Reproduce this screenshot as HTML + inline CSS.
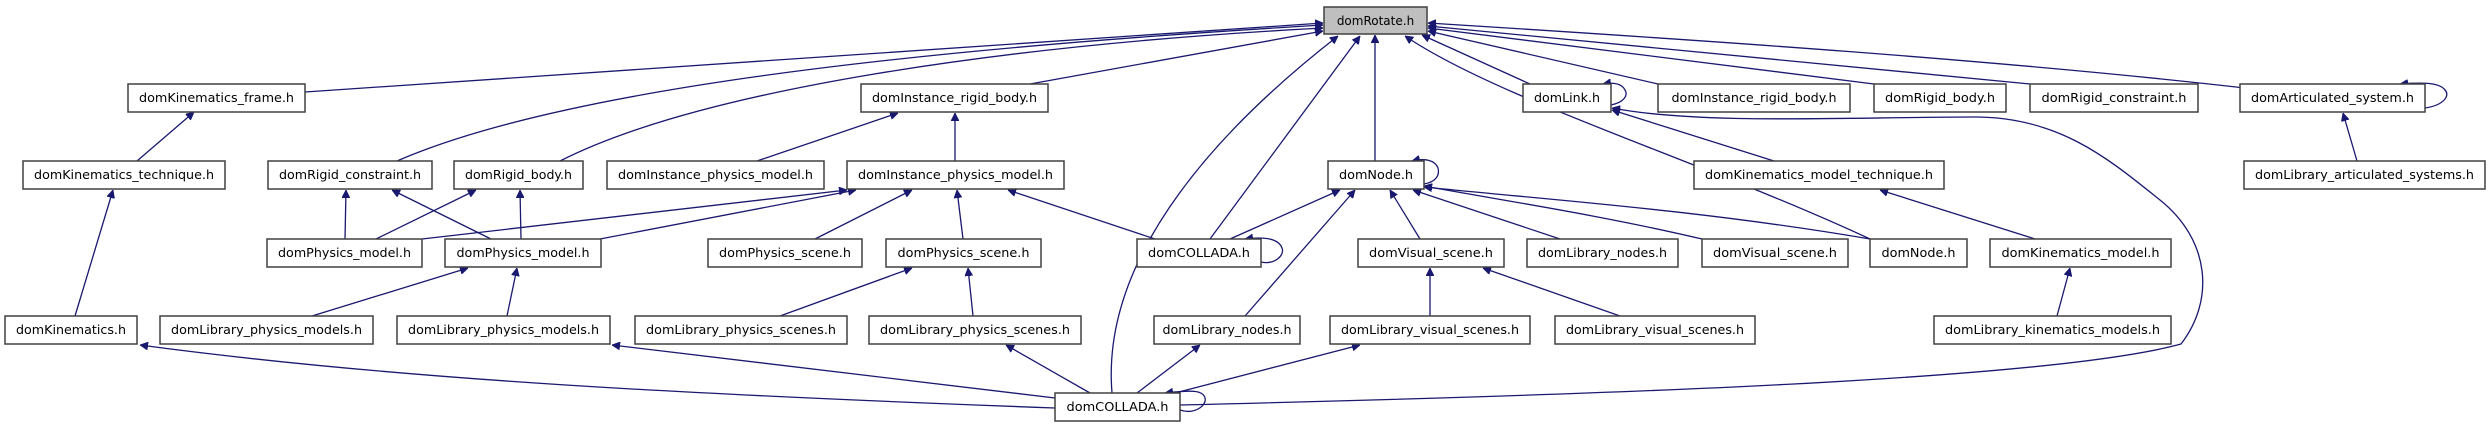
<!DOCTYPE html>
<html><head><meta charset="utf-8"><style>
html,body{margin:0;padding:0;background:#fff;}
svg{display:block;}
text{font-family:"DejaVu Sans","Liberation Sans",sans-serif;font-size:12px;fill:#000;}
.b{fill:#fff;stroke:#404040;stroke-width:1.5;}
.e{fill:none;stroke:#191970;stroke-width:1.3;marker-end:url(#a);}
</style></head><body>
<svg width="2489" height="427" viewBox="0 0 2489 427" xmlns="http://www.w3.org/2000/svg">
<defs><marker id="a" viewBox="0 0 10 10" refX="10" refY="5" markerWidth="8" markerHeight="8" markerUnits="userSpaceOnUse" orient="auto"><path d="M0,0 L10,5 L0,10 z" fill="#191970" stroke="#191970"/></marker></defs>

<path class="e" d="M305,92 L1323,23"/>
<path class="e" d="M397,161 C560,90 900,50 1323,25"/>
<path class="e" d="M560,161 C700,90 1000,45 1323,28"/>
<path class="e" d="M1030,84 L1323,31"/>
<path class="e" d="M1112,393 C1100,250 1230,120 1338,36"/>
<path class="e" d="M1210,239 L1360,36"/>
<path class="e" d="M1375,161 L1375,35"/>
<path class="e" d="M1870,239 C1700,160 1500,100 1405,36"/>
<path class="e" d="M1530,84 L1422,35"/>
<path class="e" d="M1658,84 L1428,31"/>
<path class="e" d="M1874,84 L1428,28"/>
<path class="e" d="M2030,84 L1428,26"/>
<path class="e" d="M2245,88 C2000,60 1700,40 1428,23"/>

<path class="e" d="M137,161 L194,112"/>
<path class="e" d="M75,316 L113,190"/>
<path class="e" d="M345,239 L346,190"/>
<path class="e" d="M376,239 L476,190"/>
<path class="e" d="M422,239 L847,190"/>
<path class="e" d="M491,239 L392,190"/>
<path class="e" d="M521,239 L520,190"/>
<path class="e" d="M600,239 L856,190"/>
<path class="e" d="M757,161 L898,113"/>
<path class="e" d="M955,161 L955,113"/>
<path class="e" d="M815,239 L912,190"/>
<path class="e" d="M963,239 L957,190"/>
<path class="e" d="M1155,239 L1008,190"/>
<path class="e" d="M312,316 L468,268"/>
<path class="e" d="M507,316 L517,268"/>
<path class="e" d="M780,316 L912,268"/>
<path class="e" d="M973,316 L968,268"/>

<path class="e" d="M1055,408 C700,395 400,380 140,345"/>
<path class="e" d="M1055,398 L612,345"/>
<path class="e" d="M1090,393 L1006,345"/>
<path class="e" d="M1137,393 L1200,345"/>
<path class="e" d="M1175,393 L1360,345"/>
<path class="e" d="M1180,405 C1600,395 2050,380 2181,344 C2215,300 2210,240 2160,200 C2110,160 2060,117 1975,117 C1850,117 1700,125 1612,108"/>
<path class="e" d="M1180,410 C1195,415 1207,405 1205,398 C1203,390 1192,390 1165,393"/>

<path class="e" d="M1230,239 L1340,190"/>
<path class="e" d="M1261,262 C1275,265 1285,255 1282,248 C1279,240 1268,236 1245,239"/>

<path class="e" d="M1424,184 C1436,182 1440,175 1438,168 C1435,160 1425,158 1412,161"/>
<path class="e" d="M1245,316 L1355,190"/>
<path class="e" d="M1420,239 L1390,190"/>
<path class="e" d="M1560,239 L1413,190"/>
<path class="e" d="M1702,239 C1600,215 1500,200 1424,186"/>
<path class="e" d="M1870,239 C1700,210 1550,200 1424,187"/>
<path class="e" d="M1430,316 L1430,268"/>
<path class="e" d="M1620,316 L1483,268"/>

<path class="e" d="M1611,105 C1625,102 1628,95 1625,90 C1622,84 1615,82 1603,84"/>
<path class="e" d="M1774,161 L1612,110"/>
<path class="e" d="M2035,239 L1880,190"/>
<path class="e" d="M2057,316 L2070,268"/>
<path class="e" d="M2357,161 L2343,113"/>
<path class="e" d="M2425,108 C2445,105 2450,95 2445,90 C2440,83 2425,82 2400,84"/>

<g>
<rect x="1324" y="7" width="103" height="27" fill="#bfbfbf" stroke="#404040" stroke-width="1.5"/>
<text x="1375.5" y="25" text-anchor="middle">domRotate.h</text>

<rect class="b" x="128" y="84" width="177" height="28"/><text x="216.5" y="102" text-anchor="middle" textLength="155" lengthAdjust="spacingAndGlyphs">domKinematics_frame.h</text>
<rect class="b" x="861" y="84" width="187" height="28"/><text x="954.5" y="102" text-anchor="middle" textLength="165" lengthAdjust="spacingAndGlyphs">domInstance_rigid_body.h</text>
<rect class="b" x="1523" y="84" width="88" height="28"/><text x="1567" y="102" text-anchor="middle" textLength="66" lengthAdjust="spacingAndGlyphs">domLink.h</text>
<rect class="b" x="1658" y="84" width="192" height="28"/><text x="1754" y="102" text-anchor="middle" textLength="165" lengthAdjust="spacingAndGlyphs">domInstance_rigid_body.h</text>
<rect class="b" x="1874" y="84" width="132" height="28"/><text x="1940" y="102" text-anchor="middle" textLength="110" lengthAdjust="spacingAndGlyphs">domRigid_body.h</text>
<rect class="b" x="2030" y="84" width="168" height="28"/><text x="2114" y="102" text-anchor="middle" textLength="145" lengthAdjust="spacingAndGlyphs">domRigid_constraint.h</text>
<rect class="b" x="2240" y="84" width="185" height="28"/><text x="2332.5" y="102" text-anchor="middle" textLength="163" lengthAdjust="spacingAndGlyphs">domArticulated_system.h</text>

<rect class="b" x="23" y="161" width="202" height="28"/><text x="124" y="179" text-anchor="middle" textLength="180" lengthAdjust="spacingAndGlyphs">domKinematics_technique.h</text>
<rect class="b" x="268" y="161" width="164" height="28"/><text x="350" y="179" text-anchor="middle" textLength="142" lengthAdjust="spacingAndGlyphs">domRigid_constraint.h</text>
<rect class="b" x="454" y="161" width="129" height="28"/><text x="518.5" y="179" text-anchor="middle" textLength="107" lengthAdjust="spacingAndGlyphs">domRigid_body.h</text>
<rect class="b" x="607" y="161" width="217" height="28"/><text x="715.5" y="179" text-anchor="middle" textLength="195" lengthAdjust="spacingAndGlyphs">domInstance_physics_model.h</text>
<rect class="b" x="847" y="161" width="217" height="28"/><text x="955.5" y="179" text-anchor="middle" textLength="195" lengthAdjust="spacingAndGlyphs">domInstance_physics_model.h</text>
<rect class="b" x="1328" y="161" width="96" height="28"/><text x="1376" y="179" text-anchor="middle" textLength="74" lengthAdjust="spacingAndGlyphs">domNode.h</text>
<rect class="b" x="1694" y="161" width="250" height="28"/><text x="1819" y="179" text-anchor="middle" textLength="228" lengthAdjust="spacingAndGlyphs">domKinematics_model_technique.h</text>
<rect class="b" x="2244" y="161" width="241" height="28"/><text x="2364.5" y="179" text-anchor="middle" textLength="219" lengthAdjust="spacingAndGlyphs">domLibrary_articulated_systems.h</text>

<rect class="b" x="267" y="239" width="155" height="28"/><text x="344.5" y="257" text-anchor="middle" textLength="133" lengthAdjust="spacingAndGlyphs">domPhysics_model.h</text>
<rect class="b" x="445" y="239" width="156" height="28"/><text x="523" y="257" text-anchor="middle" textLength="133" lengthAdjust="spacingAndGlyphs">domPhysics_model.h</text>
<rect class="b" x="708" y="239" width="154" height="28"/><text x="785" y="257" text-anchor="middle" textLength="132" lengthAdjust="spacingAndGlyphs">domPhysics_scene.h</text>
<rect class="b" x="886" y="239" width="155" height="28"/><text x="963.5" y="257" text-anchor="middle" textLength="132" lengthAdjust="spacingAndGlyphs">domPhysics_scene.h</text>
<rect class="b" x="1137" y="239" width="124" height="28"/><text x="1199" y="257" text-anchor="middle" textLength="102" lengthAdjust="spacingAndGlyphs">domCOLLADA.h</text>
<rect class="b" x="1358" y="239" width="146" height="28"/><text x="1431" y="257" text-anchor="middle" textLength="124" lengthAdjust="spacingAndGlyphs">domVisual_scene.h</text>
<rect class="b" x="1527" y="239" width="151" height="28"/><text x="1602.5" y="257" text-anchor="middle" textLength="129" lengthAdjust="spacingAndGlyphs">domLibrary_nodes.h</text>
<rect class="b" x="1702" y="239" width="146" height="28"/><text x="1775" y="257" text-anchor="middle" textLength="124" lengthAdjust="spacingAndGlyphs">domVisual_scene.h</text>
<rect class="b" x="1870" y="239" width="97" height="28"/><text x="1918.5" y="257" text-anchor="middle" textLength="74" lengthAdjust="spacingAndGlyphs">domNode.h</text>
<rect class="b" x="1990" y="239" width="181" height="28"/><text x="2080.5" y="257" text-anchor="middle" textLength="158" lengthAdjust="spacingAndGlyphs">domKinematics_model.h</text>

<rect class="b" x="5" y="316" width="132" height="28"/><text x="71" y="334" text-anchor="middle" textLength="110" lengthAdjust="spacingAndGlyphs">domKinematics.h</text>
<rect class="b" x="160" y="316" width="213" height="28"/><text x="266.5" y="334" text-anchor="middle" textLength="191" lengthAdjust="spacingAndGlyphs">domLibrary_physics_models.h</text>
<rect class="b" x="397" y="316" width="213" height="28"/><text x="503.5" y="334" text-anchor="middle" textLength="191" lengthAdjust="spacingAndGlyphs">domLibrary_physics_models.h</text>
<rect class="b" x="635" y="316" width="212" height="28"/><text x="741" y="334" text-anchor="middle" textLength="190" lengthAdjust="spacingAndGlyphs">domLibrary_physics_scenes.h</text>
<rect class="b" x="869" y="316" width="212" height="28"/><text x="975" y="334" text-anchor="middle" textLength="190" lengthAdjust="spacingAndGlyphs">domLibrary_physics_scenes.h</text>
<rect class="b" x="1154" y="316" width="146" height="28"/><text x="1227" y="334" text-anchor="middle" textLength="129" lengthAdjust="spacingAndGlyphs">domLibrary_nodes.h</text>
<rect class="b" x="1330" y="316" width="200" height="28"/><text x="1430" y="334" text-anchor="middle" textLength="178" lengthAdjust="spacingAndGlyphs">domLibrary_visual_scenes.h</text>
<rect class="b" x="1555" y="316" width="200" height="28"/><text x="1655" y="334" text-anchor="middle" textLength="178" lengthAdjust="spacingAndGlyphs">domLibrary_visual_scenes.h</text>
<rect class="b" x="1934" y="316" width="237" height="28"/><text x="2052.5" y="334" text-anchor="middle" textLength="215" lengthAdjust="spacingAndGlyphs">domLibrary_kinematics_models.h</text>

<rect class="b" x="1055" y="393" width="125" height="28"/><text x="1117.5" y="411" text-anchor="middle" textLength="102" lengthAdjust="spacingAndGlyphs">domCOLLADA.h</text>
</g>
</svg>
</body></html>
